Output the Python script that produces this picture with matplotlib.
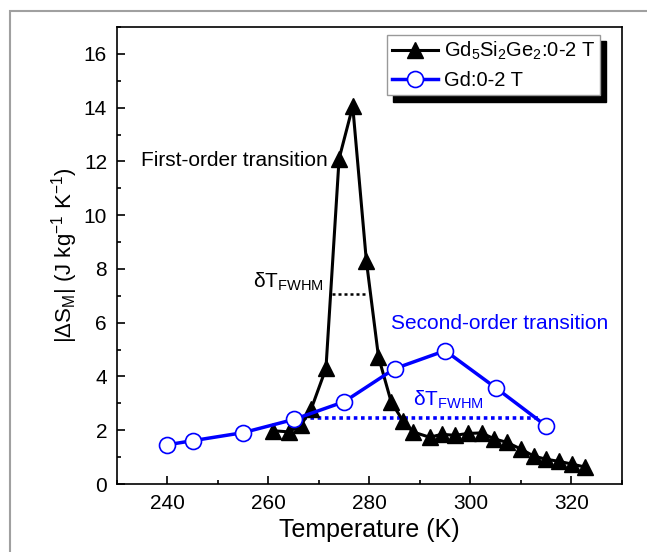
import matplotlib
matplotlib.use("Agg")
import matplotlib.pyplot as plt
from matplotlib.patches import Rectangle
from matplotlib.ticker import MultipleLocator

plt.rcParams['font.family'] = ['Liberation Sans', 'DejaVu Sans']
plt.rcParams['mathtext.fontset'] = 'custom'
plt.rcParams['mathtext.rm'] = 'Liberation Sans'

# Gd5Si2Ge2 data (0-2 T)
t_gsg = [261, 264, 266.5, 268.5, 271.4, 274.0, 276.7, 279.4, 281.8, 284.3, 286.6,
         288.6, 291.9, 294.4, 296.9, 299.5, 302.2, 304.7, 307.2, 310.1, 312.5,
         315.0, 317.6, 320.1, 322.7]
ds_gsg = [1.98, 1.94, 2.2, 2.8, 4.3, 12.1, 14.05, 8.3, 4.73, 3.06, 2.36,
          1.94, 1.74, 1.85, 1.81, 1.88, 1.9, 1.68, 1.55, 1.29, 1.04,
          0.92, 0.84, 0.74, 0.63]

# Gd data (0-2 T)
t_gd = [240, 245, 255, 265, 275, 285, 295, 305, 315]
ds_gd = [1.46, 1.61, 1.91, 2.4, 3.06, 4.29, 4.96, 3.58, 2.16]

# FWHM markers
fwhm_black_x = [272.6, 279.8]
fwhm_black_y = [7.06, 7.06]
fwhm_blue_x = [265.5, 314.0]
fwhm_blue_y = [2.44, 2.44]

fig = plt.figure(figsize=(6.47, 5.52), dpi=100)
ax = fig.add_axes([116.8 / 647, 1 - 484 / 552, (622 - 116.8) / 647, (484 - 27) / 552])

# outer frame of the picture
fig.patches.append(Rectangle((10 / 647, -0.05), 1.0, 1 - 11 / 552 + 0.05,
                             transform=fig.transFigure, fill=False,
                             edgecolor='#a0a0a0', linewidth=1.5))

ax.plot(t_gsg, ds_gsg, color='black', linewidth=2.2, marker='^', markersize=11,
        markerfacecolor='black', markeredgecolor='black', label='Gd$_5$Si$_2$Ge$_2$:0-2 T', zorder=3)
ax.plot(t_gd, ds_gd, color='#0000ff', linewidth=2.5, marker='o', markersize=11.5,
        markerfacecolor='white', markeredgecolor='#0000ff', markeredgewidth=1.2,
        label='Gd:0-2 T', zorder=4)

ax.plot(fwhm_black_x, fwhm_black_y, color='black', linestyle=(0, (1.2, 1.2)), linewidth=1.8, zorder=2)
ax.plot(fwhm_blue_x, fwhm_blue_y, color='#0000ff', linestyle=(0, (1.0, 1.0)), linewidth=2.6, zorder=2)

ax.text(271.8, 12.04, 'First-order transition', fontsize=15, color='black',
        ha='right', va='center')
ax.text(257, 7.1, 'δT$_\\mathregular{FWHM}$', fontsize=15, color='black',
        ha='left', va='bottom')
ax.text(284.3, 5.97, 'Second-order transition', fontsize=15, color='#0000ff',
        ha='left', va='center')
ax.text(288.6, 2.72, 'δT$_\\mathregular{FWHM}$', fontsize=15, color='#0000ff',
        ha='left', va='bottom')

ax.set_xlim(230, 330)
ax.set_ylim(0, 17)
ax.xaxis.set_major_locator(MultipleLocator(20))
ax.xaxis.set_minor_locator(MultipleLocator(10))
ax.yaxis.set_major_locator(MultipleLocator(2))
ax.yaxis.set_minor_locator(MultipleLocator(1))
ax.tick_params(which='both', direction='in', top=False, right=False, labelsize=15)
ax.tick_params(which='major', length=6, width=1.2, pad=7)
ax.tick_params(which='minor', length=3, width=1.2)
for sp in ax.spines.values():
    sp.set_linewidth(1.2)

ax.set_xlabel('Temperature (K)', fontsize=18, labelpad=4)
ax.set_ylabel('|ΔS$_\\mathregular{M}$| (J kg$^\\mathregular{-1}$ K$^\\mathregular{-1}$)',
              fontsize=16, labelpad=2.5)

leg = ax.legend(loc='upper right', bbox_to_anchor=(0.9565, 0.9825), borderaxespad=0,
                fontsize=14.5, frameon=True, fancybox=False, handlelength=2.3,
                handletextpad=0.25, borderpad=0.25, labelspacing=0.45,
                shadow={'ox': 4.5, 'oy': -4.5, 'color': 'black', 'alpha': 1})
leg.get_frame().set_edgecolor('#999999')
leg.get_frame().set_linewidth(1.0)
leg.get_frame().set_alpha(1)

fig.savefig('out.png', dpi=100)
